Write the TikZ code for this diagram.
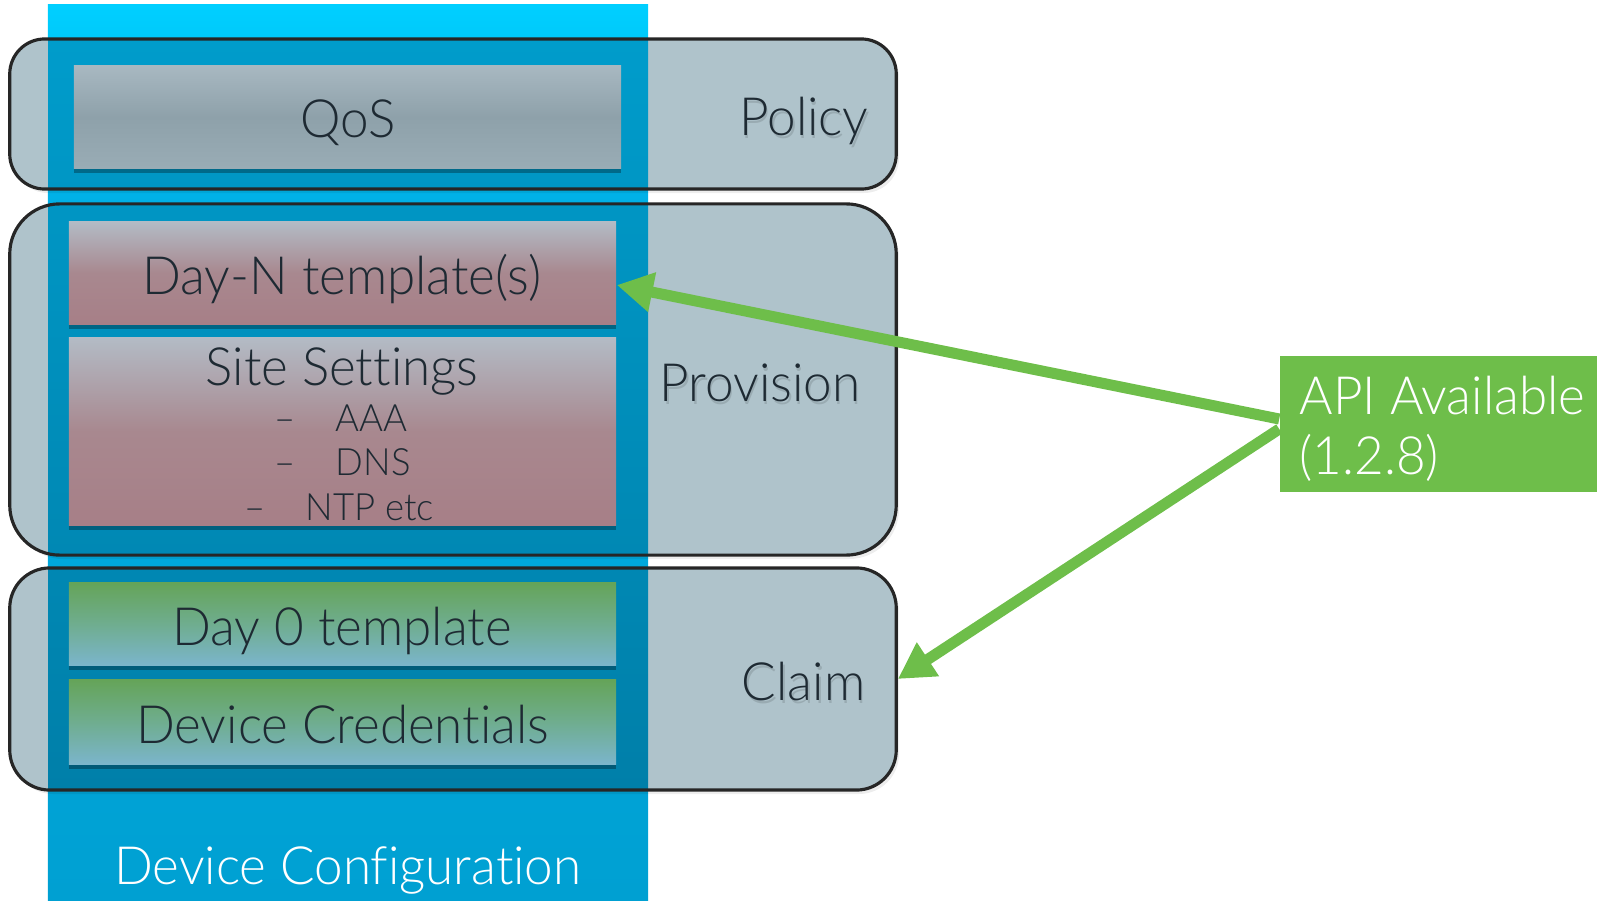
\documentclass[tikz,border=0pt]{standalone}
\usepackage{fontspec}
\setmainfont{Lato}[UprightFont=* Light, Ligatures=NoCommon, FakeStretch=0.97]
\usetikzlibrary{arrows.meta,shadows}
\definecolor{colTop}{HTML}{00CFFF}
\definecolor{colMid}{HTML}{00B0E6}
\definecolor{colBot}{HTML}{00A0D2}
\definecolor{ovTop}{HTML}{009CCB}
\definecolor{ovBot}{HTML}{007FA9}
\definecolor{panel}{HTML}{AFC3CB}
\definecolor{txt}{HTML}{1E2A33}
\definecolor{agreen}{HTML}{6EBE4A}
\definecolor{qTop}{HTML}{A8B8C1}
\definecolor{qMid}{HTML}{8EA1AA}
\definecolor{qBot}{HTML}{99ACB5}
\definecolor{rTop}{HTML}{B3BBC5}
\definecolor{rMid}{HTML}{A8888F}
\definecolor{rBot}{HTML}{A77F87}
\definecolor{gTop}{HTML}{65A459}
\definecolor{gMid}{HTML}{6FAD8F}
\definecolor{gBot}{HTML}{7BB5CB}
\pgfdeclareverticalshading{colshade}{100bp}{color(0bp)=(colBot); color(25bp)=(colBot); color(64bp)=(colMid); color(75bp)=(colTop); color(100bp)=(colTop)}
\tikzset{
  bigtext/.style={font=\fontsize{15}{18}\selectfont, text=txt, inner sep=0pt, anchor=base},
  smalltext/.style={font=\fontsize{10.7}{13}\selectfont, text=txt, inner sep=0pt, anchor=base west},
  shadowtext/.style={bigtext, text=black, opacity=0.12},
  ibox/.style={minimum width=5.47cm, inner sep=0pt,
    drop shadow={shadow xshift=0pt, shadow yshift=-0.05cm, opacity=0.3, fill=black}},
  panelframe/.style={draw=black!85, line width=0.9pt, minimum width=8.86cm, inner sep=0pt},
  apiarrow/.style={draw=agreen, line width=0.11cm, -{Triangle[length=0.36cm,width=0.38cm]}},
}
\begin{document}
\begin{tikzpicture}[x=0.01cm,y=-0.01cm]
\useasboundingbox (0,0) rectangle (1597,900);

% blue column
\node[shade, shading=colshade, minimum width=6cm, minimum height=8.95cm, inner sep=0pt] (column) at (348,452.5) {};

% panels: shadow, fill, overlay on column
\fill[black,opacity=0.07,rounded corners=0.35cm] (13,43) rectangle (899,193);
\fill[black,opacity=0.07,rounded corners=0.5cm] (13,208) rectangle (899,559);
\fill[black,opacity=0.07,rounded corners=0.4cm] (13,572) rectangle (899,794);

\fill[panel,rounded corners=0.35cm] (10,39) rectangle (896,189);
\begin{scope}
  \clip[rounded corners=0.35cm] (10,39) rectangle (896,189);
  \fill[top color=ovTop,bottom color=ovBot] (48,39) rectangle (648,790);
\end{scope}
\fill[panel,rounded corners=0.5cm] (10,204) rectangle (896,555);
\begin{scope}
  \clip[rounded corners=0.5cm] (10,204) rectangle (896,555);
  \fill[top color=ovTop,bottom color=ovBot] (48,39) rectangle (648,790);
\end{scope}
\fill[panel,rounded corners=0.4cm] (10,568) rectangle (896,790);
\begin{scope}
  \clip[rounded corners=0.4cm] (10,568) rectangle (896,790);
  \fill[top color=ovTop,bottom color=ovBot] (48,39) rectangle (648,790);
\end{scope}

\node[panelframe, minimum height=1.5cm, rounded corners=0.35cm] (policy) at (453,114) {};
\node[panelframe, minimum height=3.51cm, rounded corners=0.5cm] (provision) at (453,379.5) {};
\node[panelframe, minimum height=2.22cm, rounded corners=0.4cm] (claim) at (453,679) {};

% inner boxes
\node[ibox, minimum height=1.02cm, top color=qTop, bottom color=qBot, middle color=qMid] (qos) at (347.5,117) {};
\node[ibox, minimum height=1.02cm, top color=rTop, bottom color=rBot, middle color=rMid] (dayn) at (342.5,273) {};
\node[ibox, minimum height=1.87cm, top color=rTop, bottom color=rBot, middle color=rMid] (site) at (342.5,431.5) {};
\node[ibox, minimum height=0.82cm, top color=gTop, bottom color=gBot, middle color=gMid] (day0) at (342.5,624) {};
\node[ibox, minimum height=0.84cm, top color=gTop, bottom color=gBot, middle color=gMid] (cred) at (342.5,722) {};

% texts
\node[bigtext] (qostxt) at (347.8,137) {QoS};
\node[bigtext] (dayntxt) at (342,294) {Day-N template(s)};
\node[bigtext] (sitetxt) at (342,385) {Site Settings};
\node[smalltext] (aaa) at (335,431) {AAA};
\node[smalltext] (dns) at (335,475.5) {DNS};
\node[smalltext] (ntp) at (305,520.5) {NTP etc};
\node[smalltext, anchor=base] (dash1) at (285,431) {–};
\node[smalltext, anchor=base] (dash2) at (285,475.5) {–};
\node[smalltext, anchor=base] (dash3) at (255,520.5) {–};
\node[bigtext] (day0txt) at (342,645) {Day 0 template};
\node[bigtext] (credtxt) at (342.7,743.5) {Device Credentials};
\node[bigtext, text=white] (devconf) at (347.8,884) {Device Configuration};
\node[shadowtext] (policysh) at (805.5,138.5) {Policy};
\node[shadowtext] (provsh) at (761.5,404) {Provision};
\node[shadowtext] (claimsh) at (805.1,703.7) {Claim};
\node[bigtext] (policytxt) at (804,135.5) {Policy};
\node[bigtext] (provtxt) at (760,401) {Provision};
\node[bigtext] (claimtxt) at (803.6,700.7) {Claim};

% API box
\node[fill=agreen, minimum width=3.17cm, minimum height=1.36cm, inner sep=0pt] (api) at (1438.5,424) {};
\node[bigtext, text=white, anchor=base west] (api1) at (1299,414) {API Available};
\node[bigtext, text=white, anchor=base west] (api2) at (1299,474) {(1.2.8)};

% arrows
\draw[apiarrow] ([yshift=0.05cm]api.west) -- ([yshift=-0.12cm]dayn.east);
\draw[apiarrow] ([yshift=-0.05cm]api.west) -- (claim.east);
\end{tikzpicture}
\end{document}
